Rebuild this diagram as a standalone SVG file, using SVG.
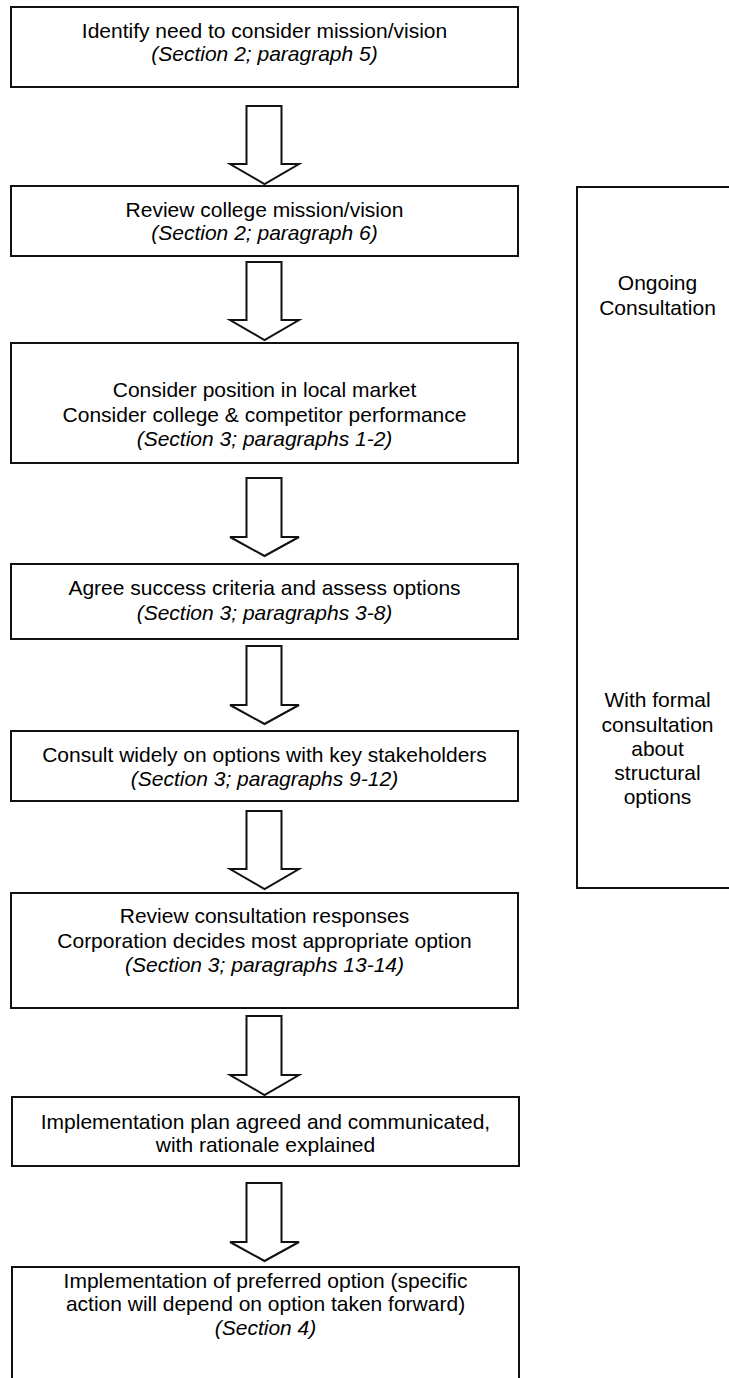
<svg xmlns="http://www.w3.org/2000/svg" width="729" height="1378" viewBox="0 0 729 1378">
<defs>
<style>
.box{fill:#fff;stroke:#111;stroke-width:2}
.arr{fill:#fff;stroke:#111;stroke-width:2;stroke-linejoin:miter}
text{font-family:"Liberation Sans",Arial,sans-serif;font-size:21px;fill:#000;text-anchor:middle}
.it{font-style:italic}
</style>
</defs>
<rect width="729" height="1378" fill="#fff"/>
<g id="connectors">
<path class="arr" d="M246.5,106 H281.5 V164 H299 L264.5,184 L230,164 H246.5 Z"/>
<path class="arr" d="M246.5,262 H281.5 V320 H299 L264.5,340 L230,320 H246.5 Z"/>
<path class="arr" d="M246.5,478 H281.5 V537 H299 L264.5,556 L230,537 H246.5 Z"/>
<path class="arr" d="M246.5,646 H281.5 V705 H299 L264.5,724 L230,705 H246.5 Z"/>
<path class="arr" d="M246.5,811 H281.5 V869 H299 L264.5,889 L230,869 H246.5 Z"/>
<path class="arr" d="M246.5,1016 H281.5 V1075 H299 L264.5,1095 L230,1075 H246.5 Z"/>
<path class="arr" d="M246.5,1183 H281.5 V1242 H299 L264.5,1261 L230,1242 H246.5 Z"/>
</g>
<g id="n1">
<rect class="box" x="11" y="7" width="507" height="80"/>
<text x="264.5" y="37.5">Identify need to consider mission/vision</text>
<text class="it" x="264.5" y="61">(Section 2; paragraph 5)</text>
</g>
<g id="n2">
<rect class="box" x="11" y="186" width="507" height="70"/>
<text x="264.5" y="217">Review college mission/vision</text>
<text class="it" x="264.5" y="240">(Section 2; paragraph 6)</text>
</g>
<g id="n3">
<rect class="box" x="11" y="343" width="507" height="120"/>
<text x="264.5" y="397">Consider position in local market</text>
<text x="264.5" y="422">Consider college &amp; competitor performance</text>
<text class="it" x="264.5" y="446">(Section 3; paragraphs 1-2)</text>
</g>
<g id="n4">
<rect class="box" x="11" y="564" width="507" height="75"/>
<text x="264.5" y="595">Agree success criteria and assess options</text>
<text class="it" x="264.5" y="620">(Section 3; paragraphs 3-8)</text>
</g>
<g id="n5">
<rect class="box" x="11" y="731" width="507" height="70"/>
<text x="264.5" y="762">Consult widely on options with key stakeholders</text>
<text class="it" x="264.5" y="786">(Section 3; paragraphs 9-12)</text>
</g>
<g id="n6">
<rect class="box" x="11" y="893" width="507" height="115"/>
<text x="264.5" y="923">Review consultation responses</text>
<text x="264.5" y="948">Corporation decides most appropriate option</text>
<text class="it" x="264.5" y="972">(Section 3; paragraphs 13-14)</text>
</g>
<g id="n7">
<rect class="box" x="12" y="1097" width="507" height="69"/>
<text x="265.5" y="1129">Implementation plan agreed and communicated,</text>
<text x="265.5" y="1152">with rationale explained</text>
</g>
<g id="n8">
<rect class="box" x="12" y="1267" width="507" height="140"/>
<text x="265.5" y="1288">Implementation of preferred option (specific</text>
<text x="265.5" y="1311">action will depend on option taken forward)</text>
<text class="it" x="265.5" y="1335">(Section 4)</text>
</g>
<g id="consultation">
<rect class="box" x="577" y="187" width="200" height="701"/>
<text x="657.5" y="290">Ongoing</text>
<text x="657.5" y="315">Consultation</text>
<text x="657.5" y="707">With formal</text>
<text x="657.5" y="731.5">consultation</text>
<text x="657.5" y="756">about</text>
<text x="657.5" y="780">structural</text>
<text x="657.5" y="804">options</text>
</g>
</svg>
